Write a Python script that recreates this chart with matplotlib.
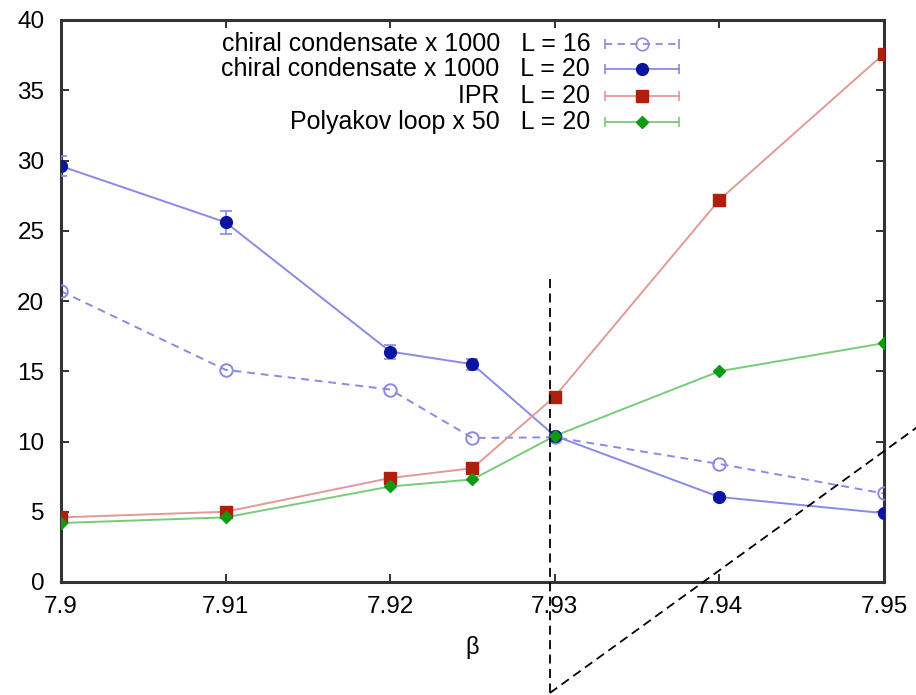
import numpy as np
import matplotlib
matplotlib.use("Agg")
import matplotlib.pyplot as plt
from matplotlib.lines import Line2D

plt.rcParams['font.family'] = ['Liberation Sans', 'DejaVu Sans']

# beta values of the runs
beta = [7.90, 7.91, 7.92, 7.925, 7.93, 7.94, 7.95]

# chiral condensate x 1000, L = 16 (open circles, dashed)
chiral_L16 = [20.7, 15.1, 13.7, 10.25, 10.3, 8.4, 6.3]
# chiral condensate x 1000, L = 20 with errors
chiral_L20 = [29.6, 25.6, 16.4, 15.5, 10.4, 6.05, 4.9]
chiral_L20_err = [0.7, 0.8, 0.5, 0.4, 0.2, 0.2, 0.15]
# inverse participation ratio, L = 20
ipr_L20 = [4.6, 5.0, 7.4, 8.1, 13.2, 27.2, 37.6]
# Polyakov loop x 50, L = 20
poly_L20 = [4.2, 4.6, 6.8, 7.3, 10.4, 15.0, 17.0]

xticks = [7.90, 7.91, 7.92, 7.93, 7.94, 7.95]
xticklabels = ["7.9", "7.91", "7.92", "7.93", "7.94", "7.95"]
yticks = [0, 5, 10, 15, 20, 25, 30, 35, 40]

legend_labels = ["chiral condensate x 1000   L = 16",
                 "chiral condensate x 1000   L = 20",
                 "IPR   L = 20",
                 "Polyakov loop x 50   L = 20"]

# marker / line colours
blue_m, blue_l = "#0a149e", "#8a8ae2"
red_m, red_l = "#b01e0c", "#e39a96"
green_m, green_l = "#0e9a12", "#78cc78"

fig = plt.figure(figsize=(9.16, 6.95), dpi=100)
ax = fig.add_axes([61 / 916, 113 / 695, 823 / 916, 562 / 695])

ax.plot(beta, chiral_L16, color=blue_l, ls=(0, (4, 3)), lw=1.4, zorder=2)
ax.plot(beta, chiral_L16, ls="none", marker="o", ms=9, mfc="none",
        mec=blue_l, mew=1.4, zorder=3)

ax.plot(beta, chiral_L20, color=blue_l, lw=1.4, zorder=2)
ax.errorbar(beta, chiral_L20, yerr=chiral_L20_err, ls="none", marker="o",
            ms=8.5, color=blue_m, ecolor=blue_l, elinewidth=1.2, capsize=4,
            capthick=1.2, zorder=4)

ax.plot(beta, ipr_L20, color=red_l, lw=1.4, zorder=2)
ax.plot(beta, ipr_L20, ls="none", marker="s", ms=9, color=red_m, zorder=4)

ax.plot(beta, poly_L20, color=green_l, lw=1.4, zorder=2)
ax.plot(beta, poly_L20, ls="none", marker="D", ms=6, color=green_m, zorder=5)

# dashed guide lines running past the frame
ax.plot([7.9297, 7.9297], [21.6, -7.9], color="black", lw=1.3,
        ls=(0, (5, 3)), clip_on=False, zorder=6)
ax.plot([7.9297, 7.9525], [-7.9, 11.43], color="black", lw=1.3,
        ls=(0, (5, 3)), clip_on=False, zorder=6)

ax.set_xlim(7.9, 7.95)
ax.set_ylim(0, 40)
ax.set_xticks(xticks)
ax.set_xticklabels(xticklabels)
ax.set_yticks(yticks)
ax.tick_params(direction="in", length=6, width=1.3, top=True, right=True,
               labelsize=17.5, color="#222222")
ax.tick_params(axis="x", pad=10)
ax.tick_params(axis="y", pad=12)
for s in ax.spines.values():
    s.set_linewidth(2.2)
    s.set_color("#333333")
ax.set_xlabel("β", fontsize=17, labelpad=13)

# hand-built key: right-aligned text, sample to the right
rows_y = [0.958, 0.912, 0.865, 0.819]
styles = [
    dict(color=blue_l, ls=(0, (4, 3)), marker="o", mfc="none", mec=blue_l,
         ms=9, mew=1.2),
    dict(color=blue_l, ls="-", marker="o", mfc=blue_m, mec=blue_m, ms=8.5),
    dict(color=red_l, ls="-", marker="s", mfc=red_m, mec=red_m, ms=9),
    dict(color=green_l, ls="-", marker="D", mfc=green_m, mec=green_m, ms=6),
]
x_txt, x0, x1, xm = 0.643, 0.661, 0.751, 0.706
for lab, yy, st in zip(legend_labels, rows_y, styles):
    ax.text(x_txt, yy, lab, transform=ax.transAxes, ha="right", va="center",
            fontsize=18)
    ax.add_line(Line2D([x0, x1], [yy, yy], transform=ax.transAxes,
                       color=st["color"], ls=st["ls"], lw=1.3))
    ax.add_line(Line2D([x0, x1], [yy, yy], transform=ax.transAxes, ls="none",
                       marker="|", ms=7, color=st["color"], mew=1.2))
    ax.add_line(Line2D([xm], [yy], transform=ax.transAxes, ls="none",
                       marker=st["marker"], ms=st["ms"], mfc=st["mfc"],
                       mec=st["mec"], mew=st.get("mew", 1.0)))

fig.savefig("out.png", dpi=100)
